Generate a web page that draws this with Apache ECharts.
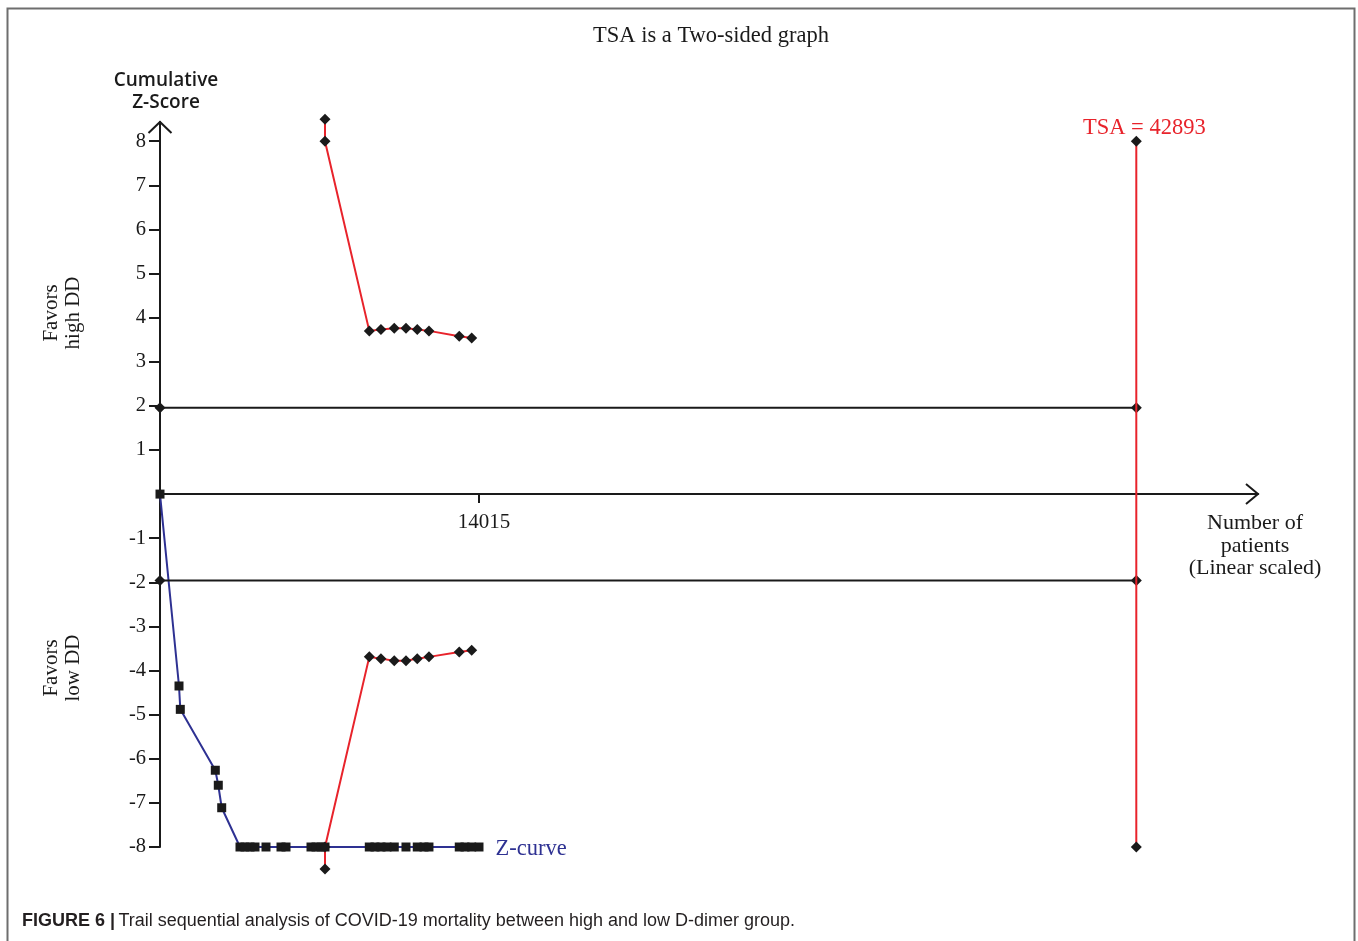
<!DOCTYPE html>
<html>
<head>
<meta charset="utf-8">
<title>TSA is a Two-sided graph</title>
<script src="https://cdn.jsdelivr.net/npm/echarts@6/dist/echarts.min.js"></script>
<style>
  html, body { margin: 0; padding: 0; background: #ffffff; }
  #chart { width: 1358px; height: 941px; }
</style>
</head>
<body>
<div id="chart"></div>
<script>
// Cumulative Z-curve: number of patients and Z-score (clipped to -8 at the plot edge)
const zCurveN = [0, 835, 892, 2430, 2561, 2711, 3515, 3734, 3954, 4174, 4657, 5316, 5536, 6634, 6854, 7073, 7249,
                 9195, 9446, 9708, 9973, 10293, 10807, 11303, 11599, 11817, 13148, 13400, 13693, 14015];
const zCurveZ = [0, -4.35, -4.88, -6.26, -6.60, -7.11, -8, -8, -8, -8, -8, -8, -8, -8, -8, -8, -8,
                 -8, -8, -8, -8, -8, -8, -8, -8, -8, -8, -8, -8, -8];

// Trial sequential monitoring boundaries (upper / lower)
const boundaryN = [7249, 7249, 9195, 9708, 10293, 10807, 11303, 11817, 13148, 13693];
const upperZ = [8.5, 8, 3.70, 3.73, 3.76, 3.76, 3.73, 3.70, 3.58, 3.54];
const lowerZ = [-8.5, -8, -3.69, -3.73, -3.78, -3.78, -3.73, -3.69, -3.58, -3.54];

// Conventional significance limits and required information size
const conventionalZ = [1.96, -1.96];
const requiredSize = 42893;
const tsaZ = [8, -8];

// Axis ticks
const yTicks = [-8, -7, -6, -5, -4, -3, -2, -1, 1, 2, 3, 4, 5, 6, 7, 8];
const xTicks = [14015];
const xMax = 48240;
const yMin = -8, yMax = 8.435;

const RED = '#e8232b';
const BLUE = '#2e3192';
const INK = '#1a1a1a';
const SERIF = '"Liberation Serif", "DejaVu Serif", serif';
const SANS = '"Liberation Sans", Arial, sans-serif';

const zip = (xs, ys) => xs.map((x, i) => [x, ys[i]]);

const chart = echarts.init(document.getElementById('chart'), null, { renderer: 'canvas' });

const zData = zip(zCurveN, zCurveZ).map((p, i, arr) => i === arr.length - 1
  ? { value: p, label: { show: true, formatter: 'Z-curve', position: 'right', distance: 12, offset: [0, 2],
      color: BLUE, fontFamily: SERIF, fontSize: 22.5 } }
  : p);

const tsaData = [
  { value: [requiredSize, tsaZ[0]], label: { show: true, formatter: 'TSA = ' + requiredSize,
      position: 'top', distance: 0, offset: [8, 4], color: RED, fontFamily: SERIF, fontSize: 22.5 } },
  [requiredSize, tsaZ[1]]
];

chart.setOption({
  animation: false,
  backgroundColor: '#ffffff',
  grid: { left: 160, right: 100, top: 122, bottom: 94, containLabel: false },
  xAxis: {
    type: 'value', min: 0, max: xMax,
    axisLine: { onZero: true, lineStyle: { color: INK, width: 2 } },
    axisTick: { show: true, length: 9, lineStyle: { color: INK, width: 2 }, customValues: xTicks },
    axisLabel: { show: false },
    splitLine: { show: false }
  },
  yAxis: {
    type: 'value', min: yMin, max: yMax,
    axisLine: { show: true, onZero: false, lineStyle: { color: INK, width: 2 } },
    axisTick: { show: true, length: 11, lineStyle: { color: INK, width: 2 }, customValues: yTicks },
    axisLabel: { show: true, customValues: yTicks, margin: 14, padding: [5, 0, 0, 0],
      color: INK, fontFamily: SERIF, fontSize: 20.5 },
    splitLine: { show: false }
  },
  series: [
    {
      name: 'Z-curve', type: 'line', data: zData, clip: false, z: 3,
      symbol: 'rect', symbolSize: 9, showAllSymbol: true,
      lineStyle: { color: BLUE, width: 2 }, itemStyle: { color: INK }
    },
    {
      name: 'Conventional upper', type: 'line', data: [[0, conventionalZ[0]], [requiredSize, conventionalZ[0]]],
      symbol: 'diamond', symbolSize: 11, clip: false, z: 4,
      lineStyle: { color: INK, width: 2 }, itemStyle: { color: INK }
    },
    {
      name: 'Conventional lower', type: 'line', data: [[0, conventionalZ[1]], [requiredSize, conventionalZ[1]]],
      symbol: 'diamond', symbolSize: 11, clip: false, z: 4,
      lineStyle: { color: INK, width: 2 }, itemStyle: { color: INK }
    },
    {
      name: 'Upper boundary', type: 'line', data: zip(boundaryN, upperZ), clip: false, z: 5,
      symbol: 'diamond', symbolSize: 11, showAllSymbol: true,
      lineStyle: { color: RED, width: 2 }, itemStyle: { color: INK }
    },
    {
      name: 'Lower boundary', type: 'line', data: zip(boundaryN, lowerZ), clip: false, z: 5,
      symbol: 'diamond', symbolSize: 11, showAllSymbol: true,
      lineStyle: { color: RED, width: 2 }, itemStyle: { color: INK }
    },
    {
      name: 'TSA', type: 'line', data: tsaData, clip: false, z: 5,
      symbol: 'diamond', symbolSize: 11,
      lineStyle: { color: RED, width: 2 }, itemStyle: { color: INK }
    }
  ]
});

// Arrow heads on the axis ends, x tick label, frame and free-standing texts
const xEnd = chart.convertToPixel({ gridIndex: 0 }, [xMax, 0]);
const yEnd = chart.convertToPixel({ gridIndex: 0 }, [0, yMax]);
const arrowStyle = { stroke: INK, lineWidth: 2, fill: null };

const xTickLabels = xTicks.map(v => {
  const p = chart.convertToPixel({ gridIndex: 0 }, [v, 0]);
  return { type: 'text', x: p[0] + 5, y: p[1] + 28,
    style: { text: String(v), align: 'center', verticalAlign: 'middle', fill: INK, fontFamily: SERIF, fontSize: 21 } };
});

chart.setOption({
  graphic: [
    { type: 'rect', shape: { x: 7.5, y: 8.5, width: 1347, height: 1000 },
      style: { stroke: '#6e6e6e', lineWidth: 2, fill: null }, silent: true },
    { type: 'polyline', shape: { points: [[xEnd[0] - 12, xEnd[1] - 10], [xEnd[0], xEnd[1]], [xEnd[0] - 12, xEnd[1] + 10]] },
      style: arrowStyle, silent: true },
    { type: 'polyline', shape: { points: [[yEnd[0] - 11.5, yEnd[1] + 11], [yEnd[0], yEnd[1]], [yEnd[0] + 11.5, yEnd[1] + 11]] },
      style: arrowStyle, silent: true },
    ...xTickLabels,
    { type: 'text', x: 711, y: 36,
      style: { text: 'TSA is a Two-sided graph', align: 'center', verticalAlign: 'middle',
        fill: INK, fontFamily: SERIF, fontSize: 22.5 } },
    { type: 'text', x: 166, y: 92,
      style: { text: 'Cumulative\nZ-Score', align: 'center', verticalAlign: 'middle', lineHeight: 22,
        fill: INK, fontFamily: '"Open Sans", "Noto Sans", sans-serif', fontWeight: 600, fontSize: 19 } },
    { type: 'text', x: 62, y: 313, rotation: Math.PI / 2,
      style: { text: 'Favors\nhigh DD', align: 'center', verticalAlign: 'middle', lineHeight: 22,
        fill: INK, fontFamily: SERIF, fontSize: 21 } },
    { type: 'text', x: 62, y: 668, rotation: Math.PI / 2,
      style: { text: 'Favors\nlow DD', align: 'center', verticalAlign: 'middle', lineHeight: 22,
        fill: INK, fontFamily: SERIF, fontSize: 21 } },
    { type: 'text', x: 1255, y: 546,
      style: { text: 'Number of\npatients\n(Linear scaled)', align: 'center', verticalAlign: 'middle', lineHeight: 22.5,
        fill: INK, fontFamily: SERIF, fontSize: 22 } },
    { type: 'text', x: 22, y: 921,
      style: { text: '{b|FIGURE 6 |} {r|Trail sequential analysis of COVID-19 mortality between high and low D-dimer group.}',
        verticalAlign: 'middle',
        rich: {
          b: { fontFamily: SANS, fontWeight: 'bold', fontSize: 18, fill: '#231f20' },
          r: { fontFamily: SANS, fontSize: 18, fill: '#231f20' }
        } } }
  ]
});
</script>
</body>
</html>
